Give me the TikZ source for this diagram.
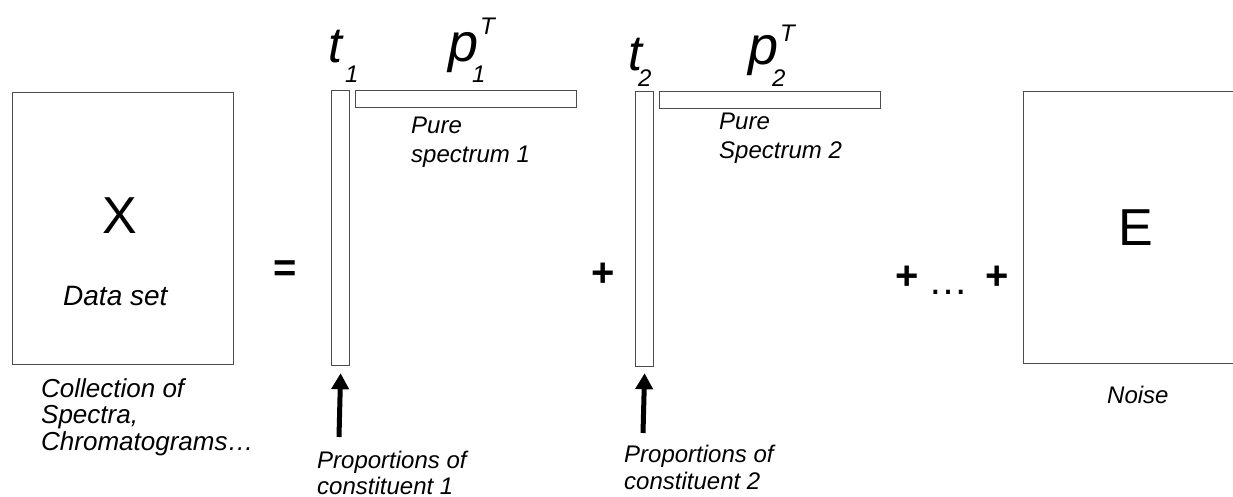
\documentclass[tikz,border=0pt]{standalone}
\usepackage{fontspec}
\setmainfont{Liberation Sans}
\usetikzlibrary{arrows.meta}
\tikzset{
  box/.style={draw=black!70, line width=1.2pt, inner sep=0pt, anchor=north west},
  lab/.style={inner sep=0pt, anchor=base west, font=\fontsize{24}{24}\selectfont\itshape},
  big/.style={inner sep=0pt, anchor=base, font=\fontsize{52}{52}\selectfont},
  op/.style={inner sep=0pt, anchor=center, font=\fontsize{40}{40}\selectfont\bfseries},
  sym/.style={inner sep=0pt, anchor=base west, font=\fontsize{54}{54}\selectfont\itshape},
  idx/.style={inner sep=0pt, anchor=base west, font=\fontsize{24}{24}\selectfont\itshape},
  arr/.style={line width=5pt, -{Triangle[length=16pt,width=17pt]}}
}
\begin{document}
\begin{tikzpicture}[x=1pt,y=-1pt]
\useasboundingbox (0,0) rectangle (1233,496);
% X box
\node[box, minimum width=221pt, minimum height=272pt] (X) at (12,92) {};
\node[big] (Xl) at (120,233) {X};
\node[lab, font=\fontsize{28}{28}\selectfont\itshape] (ds) at (63,305) {Data set};
\node[lab, font=\fontsize{26}{26}\selectfont\itshape] (c1) at (41,397) {Collection of};
\node[lab, font=\fontsize{26}{26}\selectfont\itshape] (c2) at (41,423) {Spectra,};
\node[lab, font=\fontsize{26}{26}\selectfont\itshape] (c3) at (41,450) {Chromatograms…};
% equals
\node[op] (eq) at (285,271) {=};
% component 1
\node[box, minimum width=18pt, minimum height=275pt] (t1) at (331,90) {};
\node[box, minimum width=221pt, minimum height=17pt] (p1) at (355,90) {};
\node[sym, font=\fontsize{50}{50}\selectfont\itshape] (t1s) at (328,62) {t};
\node[idx] (t1i) at (345,82) {1};
\node[sym] (p1s) at (448,61) {p};
\node[idx] (p1i) at (472,82) {1};
\node[idx] (p1T) at (480,34) {T};
\node[lab] (ps1a) at (411,133) {Pure};
\node[lab] (ps1b) at (411,162) {spectrum 1};
\coordinate (a1) at (339,437);
\draw[arr] (a1) -- ([yshift=-7pt]t1.south);
\node[lab] (pr1a) at (317,468) {Proportions of};
\node[lab] (pr1b) at (317,494) {constituent 1};
% plus
\node[op] (plus1) at (603,275) {+};
% component 2
\node[box, minimum width=18pt, minimum height=275pt] (t2) at (635,91) {};
\node[box, minimum width=221pt, minimum height=17pt] (p2) at (659,91) {};
\node[sym, font=\fontsize{50}{50}\selectfont\itshape] (t2s) at (628,70) {t};
\node[idx] (t2i) at (638,86) {2};
\node[sym] (p2s) at (748,64) {p};
\node[idx] (p2i) at (772,86) {2};
\node[idx] (p2T) at (780,41) {T};
\node[lab] (ps2a) at (719,129) {Pure};
\node[lab] (ps2b) at (719,158) {Spectrum 2};
\coordinate (a2) at (643,433);
\draw[arr] (a2) -- ([yshift=-6pt]t2.south);
\node[lab] (pr2a) at (624,462) {Proportions of};
\node[lab] (pr2b) at (624,489) {constituent 2};
% plus ... plus
\node[op] (plus2) at (907,278) {+};
\node[inner sep=0pt, anchor=base, font=\fontsize{40}{40}\selectfont] (dots) at (948,294) {…};
\node[op] (plus3) at (997,278) {+};
% E box
\node[box, minimum width=222pt, minimum height=272pt] (E) at (1023,91) {};
\node[big] (El) at (1136,245) {E};
\node[lab] (noise) at (1107,403) {Noise};
\end{tikzpicture}
\end{document}
